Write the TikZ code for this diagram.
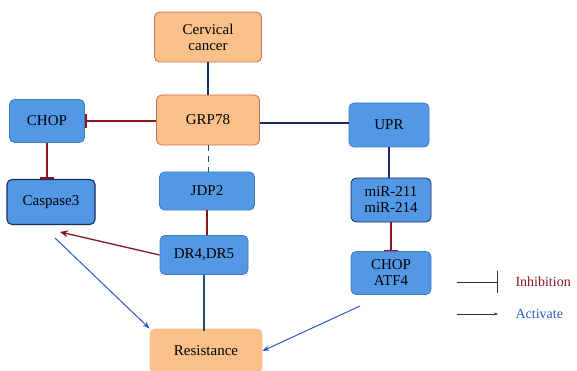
\documentclass[tikz,border=0pt]{standalone}
\usepackage{fontspec}
\setmainfont{Liberation Serif}
\usetikzlibrary{arrows.meta}
\definecolor{bluefill}{RGB}{82,152,228}
\definecolor{blueedge}{RGB}{62,122,200}
\definecolor{navy}{RGB}{25,45,90}
\definecolor{orfill}{RGB}{250,192,138}
\definecolor{oredge}{RGB}{205,110,80}
\definecolor{inhred}{RGB}{135,22,30}
\definecolor{actblue}{RGB}{40,90,190}
\definecolor{darkteal}{RGB}{30,80,110}
\begin{document}
\begin{tikzpicture}[x=1pt,y=-1pt,
  box/.style={draw, rounded corners=5pt, line width=0.8pt, align=center, inner sep=0pt,
    font=\fontsize{15}{16}\selectfont},
  bbox/.style={box, fill=bluefill, draw=blueedge},
  obox/.style={box, fill=orfill, draw=oredge},
  inh/.style={draw=inhred, line width=1.3pt, -{Bar[width=14pt,line width=1.6pt]}},
  act/.style={draw=actblue, line width=1pt, -{Stealth[length=7pt,width=5pt]}},
  lnk/.style={draw=navy, line width=1.3pt}]
\useasboundingbox (0,0) rectangle (577,371);
\node[obox, minimum width=107pt, minimum height=50pt] (cc) at (208,37) {Cervical\\cancer};
\node[obox, minimum width=103pt, minimum height=50pt] (grp) at (208,120) {GRP78};
\node[bbox, minimum width=75pt, minimum height=43pt] (chop) at (47,121) {CHOP};
\node[bbox, draw=navy, line width=1.1pt, minimum width=88pt, minimum height=45pt] (casp) at (51,202) {Caspase3};
\node[bbox, minimum width=95pt, minimum height=38pt] (jdp) at (207,191) {JDP2};
\node[bbox, minimum width=88pt, minimum height=39pt] (dr) at (204,255) {DR4,DR5};
\node[obox, draw=orfill, minimum width=112pt, minimum height=44pt] (res) at (206,351) {Resistance};
\node[bbox, minimum width=80pt, minimum height=44pt] (upr) at (389,125) {UPR};
\node[bbox, draw=navy, minimum width=80pt, minimum height=44pt] (mir) at (391,200) {miR-211\\miR-214};
\node[bbox, minimum width=80pt, minimum height=43pt] (atf) at (391,273) {CHOP\\ATF4};
% connectors
\draw[lnk] (cc) -- (grp);
\draw[inh] (grp.west |- 0,121) -- (chop.east);
\draw[inh] (chop.south) -- (chop.south |- casp.north);
\draw[draw=darkteal, line width=1pt, dash pattern=on 6pt off 5pt] (grp.south) -- (grp.south |- jdp.north);
\draw[draw=inhred, line width=1.3pt] (jdp.south) -- (jdp.south |- dr.north);
\coordinate (cin) at (60,232);
\draw[inh, -{Stealth[length=8pt,width=7pt]}] (dr.west) -- (cin);
\coordinate (cout) at (55,238);
\draw[act] (cout) -- (res.north west);
\draw[draw=darkteal, line width=1.3pt] (dr.south) -- ([yshift=-2pt]dr.south |- res.north);
\draw[lnk] (grp.east |- 0,123) -- (upr.west |- 0,123);
\draw[lnk] (389,147) -- (mir.north -| 389,0);
\draw[inh] (mir.south) -- (atf.north);
\coordinate (aout) at (360,306);
\draw[act] (aout) -- (res.east);
% legend
\coordinate (l1a) at (457,282);
\coordinate (l1b) at (498,282);
\coordinate (l2a) at (457,314);
\coordinate (l2b) at (498,314);
\draw[draw=black!80, line width=0.6pt, -{Bar[width=22pt,line width=0.8pt]}] (l1a) -- (l1b);
\draw[draw=black!80, line width=0.6pt, -{Stealth[length=4pt,width=3pt]}] (l2a) -- (l2b);
\node[anchor=west, text=inhred, font=\fontsize{14}{15}\selectfont] (tinh) at (512,282) {Inhibition};
\node[anchor=west, text=actblue, font=\fontsize{14}{15}\selectfont] (tact) at (512,314) {Activate};
\end{tikzpicture}
\end{document}
